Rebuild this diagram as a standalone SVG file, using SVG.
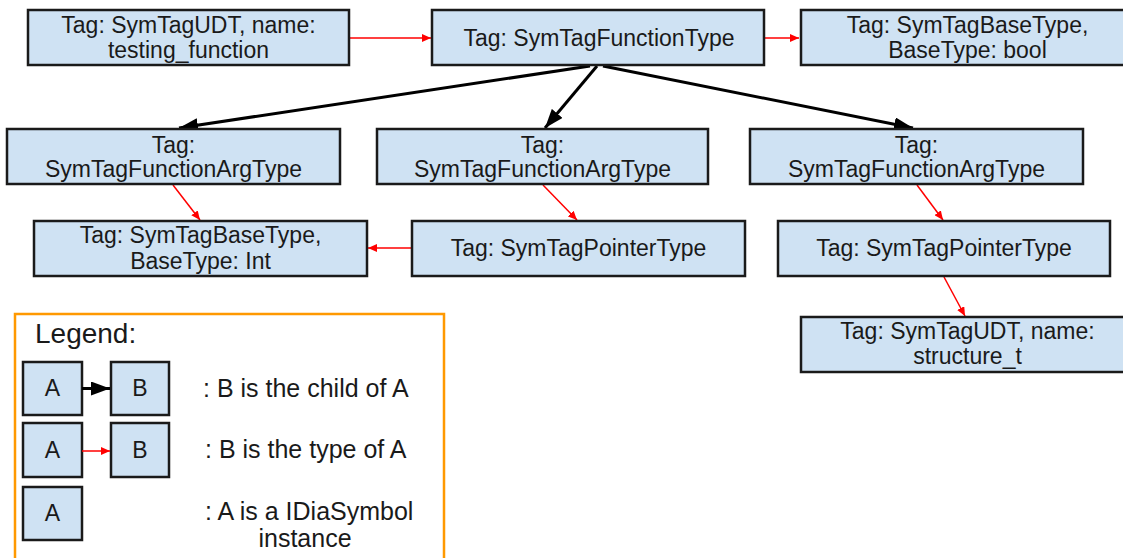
<svg xmlns="http://www.w3.org/2000/svg" width="1123" height="558" viewBox="0 0 1123 558">
  <style>
    .node { fill: #cfe2f3; stroke: #1a1a1a; stroke-width: 2.5; }
    .label { font-family: "Liberation Sans", Arial, sans-serif; font-size: 23px; fill: #1a1a1a; text-anchor: middle; }
    .legend-text { font-family: "Liberation Sans", Arial, sans-serif; font-size: 25px; fill: #1a1a1a; }
    .type-edge { stroke: #ff0000; stroke-width: 1.5; fill: none; marker-end: url(#typeHead); }
    .child-edge { stroke: #000000; stroke-width: 3; fill: none; marker-end: url(#childHead); }
  </style>
  <defs>
    <marker id="typeHead" markerUnits="userSpaceOnUse" markerWidth="10" markerHeight="8" refX="9" refY="4" orient="auto">
      <path d="M0,0 L9,4 L0,8 z" fill="#ff0000"/>
    </marker>
    <marker id="childHead" markerUnits="userSpaceOnUse" markerWidth="20" markerHeight="14" refX="19" refY="7" orient="auto">
      <path d="M0,0 L19,7 L0,14 z" fill="#000000"/>
    </marker>
  </defs>

  <rect width="1123" height="558" fill="#ffffff"/>

  <!-- connectors -->
  <g id="connectors">
    <line class="type-edge" x1="349" y1="38" x2="431" y2="38"/>
    <line class="type-edge" x1="764" y1="38" x2="799" y2="38"/>
    <line class="child-edge" x1="590" y1="66" x2="179" y2="128"/>
    <line class="child-edge" x1="597" y1="66" x2="545" y2="128"/>
    <line class="child-edge" x1="603" y1="66" x2="913" y2="128"/>
    <line class="type-edge" x1="173" y1="185" x2="200" y2="220"/>
    <line class="type-edge" x1="543" y1="185" x2="577" y2="220"/>
    <line class="type-edge" x1="917" y1="185" x2="943" y2="220"/>
    <line class="type-edge" x1="412" y1="248" x2="368" y2="248"/>
    <line class="type-edge" x1="944" y1="277" x2="965" y2="316"/>
  </g>

  <!-- row 1 -->
  <g id="udt-testing-function">
    <rect class="node" x="28" y="10" width="321" height="55"/>
    <text class="label" x="188.5" y="33">Tag: SymTagUDT, name:</text>
    <text class="label" x="188.5" y="58">testing_function</text>
  </g>
  <g id="function-type">
    <rect class="node" x="432" y="10" width="332" height="55"/>
    <text class="label" x="599" y="46">Tag: SymTagFunctionType</text>
  </g>
  <g id="base-type-bool">
    <rect class="node" x="801" y="10" width="333" height="55"/>
    <text class="label" x="967.5" y="33">Tag: SymTagBaseType,</text>
    <text class="label" x="967.5" y="58">BaseType: bool</text>
  </g>

  <!-- row 2 -->
  <g id="arg-type-1">
    <rect class="node" x="7" y="129" width="333" height="55"/>
    <text class="label" x="173.5" y="153">Tag:</text>
    <text class="label" x="173.5" y="177">SymTagFunctionArgType</text>
  </g>
  <g id="arg-type-2">
    <rect class="node" x="377" y="129" width="331" height="55"/>
    <text class="label" x="542.5" y="153">Tag:</text>
    <text class="label" x="542.5" y="177">SymTagFunctionArgType</text>
  </g>
  <g id="arg-type-3">
    <rect class="node" x="750" y="129" width="333" height="55"/>
    <text class="label" x="916.5" y="153">Tag:</text>
    <text class="label" x="916.5" y="177">SymTagFunctionArgType</text>
  </g>

  <!-- row 3 -->
  <g id="base-type-int">
    <rect class="node" x="34" y="221" width="333" height="55"/>
    <text class="label" x="200.5" y="243">Tag: SymTagBaseType,</text>
    <text class="label" x="200.5" y="269">BaseType: Int</text>
  </g>
  <g id="pointer-type-1">
    <rect class="node" x="412" y="221" width="333" height="55"/>
    <text class="label" x="578.5" y="256">Tag: SymTagPointerType</text>
  </g>
  <g id="pointer-type-2">
    <rect class="node" x="778" y="221" width="332" height="55"/>
    <text class="label" x="944" y="256">Tag: SymTagPointerType</text>
  </g>

  <!-- row 4 -->
  <g id="udt-structure-t">
    <rect class="node" x="801" y="317" width="333" height="55"/>
    <text class="label" x="967.5" y="339">Tag: SymTagUDT, name:</text>
    <text class="label" x="967.5" y="364">structure_t</text>
  </g>

  <!-- legend -->
  <g id="legend">
    <rect x="15" y="314" width="429" height="260" fill="#ffffff" stroke="#ff9900" stroke-width="2.5"/>
    <text class="legend-text" x="35" y="343" style="font-size:28px">Legend:</text>

    <rect class="node" x="23" y="362" width="59" height="53"/>
    <text class="label" x="52.5" y="396">A</text>
    <rect class="node" x="111" y="362" width="58" height="53"/>
    <text class="label" x="140" y="396">B</text>
    <line class="child-edge" x1="82" y1="388.5" x2="110" y2="388.5"/>
    <text class="legend-text" x="203" y="397">: B is the child of A</text>

    <rect class="node" x="23" y="423" width="59" height="54"/>
    <text class="label" x="52.5" y="458">A</text>
    <rect class="node" x="111" y="423" width="58" height="54"/>
    <text class="label" x="140" y="458">B</text>
    <line class="type-edge" x1="82" y1="451" x2="110" y2="451"/>
    <text class="legend-text" x="205" y="458">: B is the type of A</text>

    <rect class="node" x="23" y="487" width="59" height="53"/>
    <text class="label" x="52.5" y="521">A</text>
    <text class="legend-text" x="205" y="520">: A is a IDiaSymbol</text>
    <text class="legend-text" x="305" y="547" text-anchor="middle">instance</text>
  </g>
</svg>
